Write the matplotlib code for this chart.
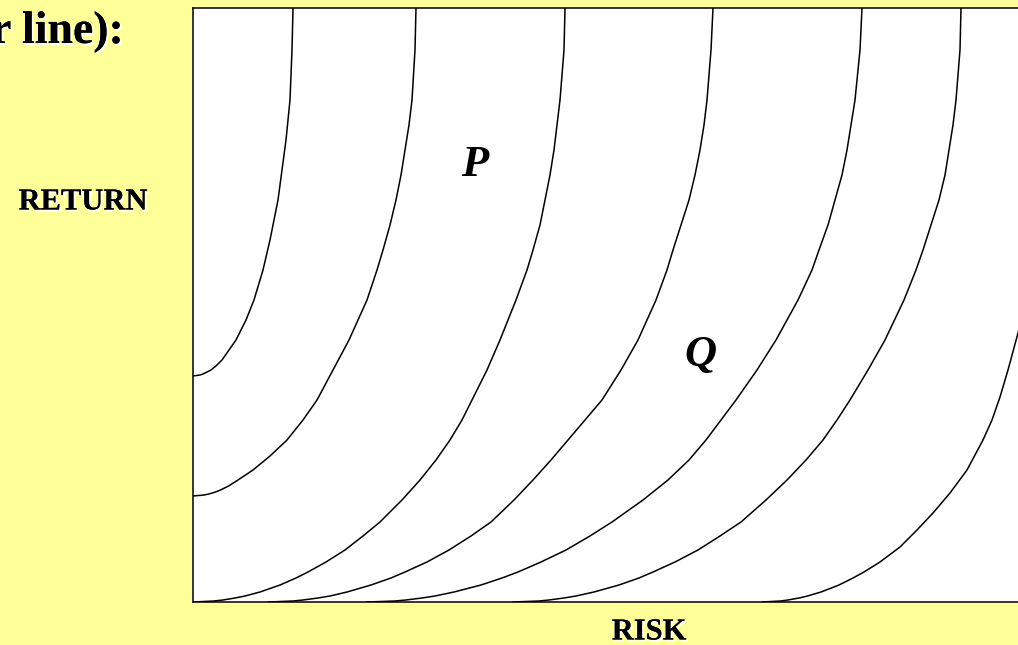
import matplotlib
matplotlib.use("Agg")
import matplotlib.pyplot as plt
import matplotlib.patheffects as pe

# indifference curves (risk, return), arbitrary units
c1_risk = [0, 7, 10, 14, 18, 24, 29, 36, 43, 53, 61, 70, 77, 81, 85, 89, 93, 95, 97, 98, 99, 100]
c1_ret = [226, 227, 228, 230, 232, 237, 242, 252, 262, 282, 302, 332, 362, 382, 402, 432, 462, 482,
          502, 527, 552, 594]

c2_risk = [0, 11, 16, 22.5, 27.5, 35.6, 45, 60, 77, 94, 110, 124, 140, 156, 174, 184, 190, 197,
           203, 208, 212, 216, 219, 222, 223]
c2_ret = [106, 107, 108, 110, 112, 116, 122, 132, 146, 162, 182, 202, 232, 262, 302, 332, 352, 377,
          402, 427, 452, 477, 502, 552, 594]

# return levels shared by the curves that start on the risk axis
ret_grid = [0, 1, 2, 4, 6, 10, 17, 24, 30, 40, 52, 66, 80, 102, 122, 142, 162, 182, 202, 232, 262,
            302, 332, 352, 377, 402, 427, 452, 477, 502, 552, 594]

c3_risk = [0, 21, 30, 42, 52, 67, 87, 103, 115, 133, 152, 170, 187, 209, 227, 243, 257, 269, 279,
           294, 307, 323, 334, 340, 347, 352, 357, 361, 364, 367, 371, 372]
c4_risk = [75, 100, 110, 125, 137, 154, 178, 198, 212, 234, 256, 278, 298, 321, 340, 358, 375, 392,
           409, 428, 445, 463, 474, 480, 488, 496, 502, 507, 511, 514, 518, 520]
c5_risk = [174, 202, 213, 229, 242, 261, 288, 309, 325, 348, 373, 397, 419, 450, 475, 496, 513, 528,
           543, 564, 583, 605, 619, 626, 635, 642, 649, 654, 658, 662, 667, 669]
c6_risk = [320, 346, 356, 371, 383, 401, 426, 446, 460, 482, 505, 527, 548, 573, 594, 613, 630, 644,
           657, 675, 692, 711, 723, 730, 738, 746, 752, 756, 760, 763, 767, 768]

c7_risk = [569, 587.6, 595, 606, 614.6, 628, 646, 660, 671, 687, 707, 724, 740, 757, 774, 790, 799,
           807, 815, 825, 833, 843]
c7_ret = [0, 1, 2, 4, 6, 10, 17, 24, 30, 40, 55, 72, 89, 109, 132, 162, 182, 205, 232, 269, 302, 352]

curves = [(c1_risk, c1_ret), (c2_risk, c2_ret), (c3_risk, ret_grid), (c4_risk, ret_grid),
          (c5_risk, ret_grid), (c6_risk, ret_grid), (c7_risk, c7_ret)]

point_labels = ["P", "Q"]
point_risk = [282, 507]
point_ret = [437, 247]

bg = "#FFFF99"
serif = ["Liberation Serif", "DejaVu Serif"]

fig = plt.figure(figsize=(10.18, 6.45), dpi=100, facecolor=bg)
ax = fig.add_axes([193 / 1018, 43 / 645, 837 / 1018, 594 / 645])
ax.set_facecolor("white")

for xs, ys in curves:
    ax.plot(xs, ys, color="black", lw=1.1, solid_joinstyle="round")

for lab, x, y in zip(point_labels, point_risk, point_ret):
    ax.text(x, y, lab, fontsize=32, fontweight="bold", fontstyle="italic",
            family=serif, ha="center", va="center")

ax.set_xlim(0, 837)
ax.set_ylim(0, 594)
ax.set_xticks([])
ax.set_yticks([])
for s in ax.spines.values():
    s.set_linewidth(1.1)

shadow = [pe.withSimplePatchShadow(offset=(1.5, -1.5), shadow_rgbFace="white", alpha=0.9), pe.Normal()]

fig.text(-9 / 1018, 1 - 43 / 645, "r line):", fontsize=33, fontweight="bold",
         family=serif, ha="left", va="baseline", path_effects=shadow)
fig.text(83 / 1018, 1 - 202 / 645, "RETURN", fontsize=22, fontweight="bold",
         family=serif, ha="center", va="center", path_effects=shadow)
fig.text(649 / 1018, 1 - 632 / 645, "RISK", fontsize=22, fontweight="bold",
         family=serif, ha="center", va="center", path_effects=shadow)

fig.savefig("out.png", facecolor=bg)
